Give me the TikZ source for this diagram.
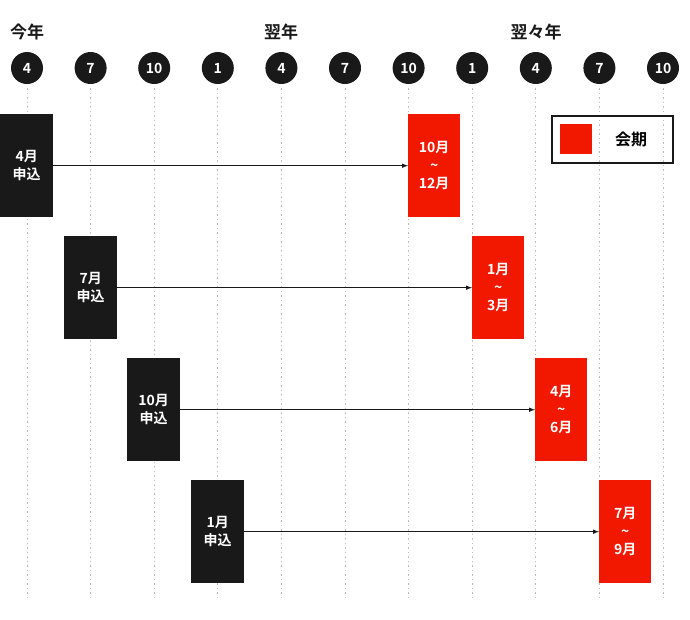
\documentclass[tikz,border=0pt]{standalone}
\usepackage{fontspec}
\setmainfont{Noto Sans CJK JP}[BoldFont={* Bold}]
\begin{document}
\begin{tikzpicture}[x=1pt,y=-1pt,
  mon/.style={circle,fill=black!90,text=white,minimum size=32pt,inner sep=0pt,font=\bfseries\fontsize{14}{14}\selectfont},
  yr/.style={font=\bfseries\fontsize{17}{17}\selectfont,text=black!90},
  app/.style={fill=black!90,text=white,minimum width=53pt,minimum height=103pt,inner sep=0pt,align=center,font=\bfseries\fontsize{14}{18}\selectfont},
  per/.style={fill=red!80!orange!95!black,text=white,minimum width=52pt,minimum height=103pt,inner sep=0pt,align=center,font=\bfseries\fontsize{14}{18}\selectfont},
  dot/.style={gray!50,line width=1pt,dash pattern=on 1.5pt off 3pt},
  arr/.style={-latex,line width=1pt,black!90}]
\useasboundingbox (0,0) rectangle (690,619);
\foreach \i/\m in {0/4,1/7,2/10,3/1,4/4,5/7,6/10,7/1,8/4,9/7,10/10}{
  \pgfmathsetmacro\xx{27+63.6*\i}
  \draw[dot] (\xx,88) -- (\xx,600);
  \node[mon] (m\i) at (\xx,68) {\m};
}
\node[yr] (y0) at (27,32) {今年};
\node[yr] (y1) at (281,32) {翌年};
\node[yr] (y2) at (536,32) {翌々年};
\foreach \n/\xa/\xb/\yy/\ta/\tb in {1/0/408/114/4月\\申込/10月\\\textasciitilde\\12月,2/64/472/236/7月\\申込/1月\\\textasciitilde\\3月,3/127/535/358/10月\\申込/4月\\\textasciitilde\\6月,4/191/599/480/1月\\申込/7月\\\textasciitilde\\9月}{
  \node[app,anchor=north west] (a\n) at (\xa,\yy) {\ta};
  \fill[black!90] ([xshift=-6pt]a\n.north) -- ([yshift=-7pt]a\n.north) -- ([xshift=6pt]a\n.north) -- cycle;
  \node[per,anchor=north west] (p\n) at (\xb,\yy) {\tb};
  \draw[arr] (a\n.east) -- (p\n.west);
}
\node[draw=black!90,line width=1.5pt,minimum width=121pt,minimum height=47pt,anchor=north west] (lg) at (551,115) {};
\fill[red!80!orange!95!black] (560,124) rectangle (592,154);
\node[font=\bfseries\fontsize{16}{16}\selectfont] (lt) at (631,139) {会期};
\end{tikzpicture}
\end{document}
